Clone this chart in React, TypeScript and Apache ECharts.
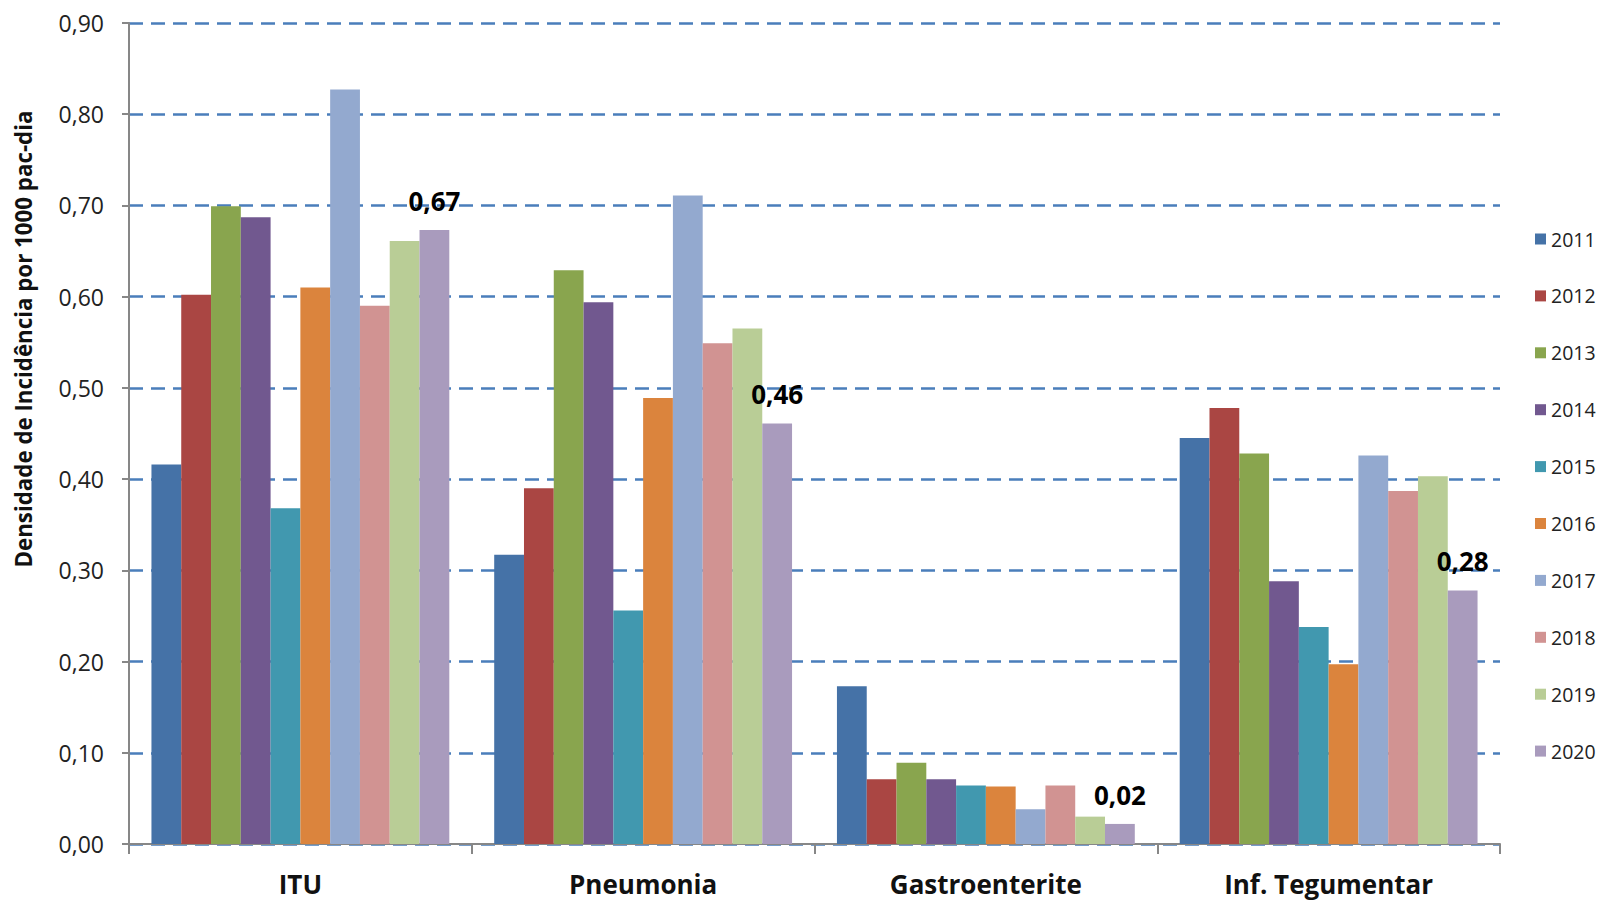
import React, { useEffect, useRef } from "react";
import * as echarts from "echarts";

const categories = ["ITU", "Pneumonia", "Gastroenterite", "Inf. Tegumentar"];
const years = ["2011", "2012", "2013", "2014", "2015", "2016", "2017", "2018", "2019", "2020"];

const v2011 = [0.416, 0.317, 0.173, 0.445];
const v2012 = [0.602, 0.39, 0.071, 0.478];
const v2013 = [0.699, 0.629, 0.089, 0.428];
const v2014 = [0.687, 0.594, 0.071, 0.288];
const v2015 = [0.368, 0.256, 0.064, 0.238];
const v2016 = [0.61, 0.489, 0.063, 0.197];
const v2017 = [0.827, 0.711, 0.038, 0.426];
const v2018 = [0.59, 0.549, 0.064, 0.387];
const v2019 = [0.661, 0.565, 0.03, 0.403];
const v2020 = [0.673, 0.461, 0.022, 0.278];

const seriesValues = [v2011, v2012, v2013, v2014, v2015, v2016, v2017, v2018, v2019, v2020];
const colors = [
  "#4572A7", "#AA4643", "#89A54E", "#71588F", "#4198AF",
  "#DB843D", "#93A9CF", "#D19392", "#B9CD96", "#A99BBD",
];

const yTitle = "Densidade de Incidência por 1000 pac-dia";
const FONT = "'Open Sans', 'Liberation Sans', sans-serif";
const fmt = (v: number) => v.toFixed(2).replace(".", ",");

export default function App() {
  const ref = useRef<HTMLDivElement>(null);
  useEffect(() => {
    if (!ref.current) return;
    const chart = echarts.init(ref.current, undefined, { renderer: "svg" });
    const series = years.map((y, i) => ({
      name: y,
      type: "bar" as const,
      data: seriesValues[i],
      itemStyle: { color: colors[i] },
      barGap: "0%",
      barCategoryGap: "13.1%",
      label:
        i === years.length - 1
          ? {
              show: true,
              position: "top" as const,
              distance: 16,
              fontFamily: FONT,
              fontSize: 26,
              fontWeight: "bold" as const,
              color: "#000",
              formatter: (p: any) => fmt(p.value),
            }
          : { show: false },
    }));
    chart.setOption({
      animation: false,
      backgroundColor: "#fff",
      textStyle: { fontFamily: FONT },
      grid: { left: 129, right: 99, top: 23, bottom: 57, containLabel: false },
      legend: {
        data: years,
        orient: "vertical",
        left: 1530,
        top: 224,
        itemWidth: 11,
        itemHeight: 11,
        itemGap: 36.9,
        icon: "rect",
        textStyle: { fontFamily: FONT, fontSize: 19.5, color: "#222", lineHeight: 19 },
      },
      xAxis: {
        type: "category",
        data: categories,
        axisLine: { show: true, lineStyle: { color: "#878787", width: 2 } },
        axisTick: { show: true, length: 10, lineStyle: { color: "#878787", width: 2 } },
        axisLabel: {
          fontFamily: FONT,
          fontSize: 26,
          fontWeight: "bold",
          color: "#111",
          margin: 27,
          lineHeight: 26,
        },
      },
      yAxis: {
        type: "value",
        min: 0,
        max: 0.9,
        interval: 0.1,
        axisLine: { show: true, lineStyle: { color: "#878787", width: 2 } },
        axisTick: { show: true, length: 7, lineStyle: { color: "#878787", width: 2 } },
        axisLabel: {
          fontFamily: FONT,
          fontSize: 23,
          color: "#222",
          margin: 25,
          formatter: (v: number) => fmt(v),
        },
        splitLine: {
          show: true,
          lineStyle: { color: "#4A7EBB", width: 2.5, type: [14, 8] },
        },
      },
      graphic: [
        {
          type: "text",
          x: 23,
          y: 339,
          rotation: Math.PI / 2,
          style: {
            text: yTitle,
            fontFamily: FONT,
            fontSize: 22.3,
            fontWeight: "bold",
            fill: "#111",
            textAlign: "center",
            textVerticalAlign: "middle",
          },
        },
      ],
      series,
    });
    return () => chart.dispose();
  }, []);
  return (
    <div
      ref={ref}
      style={{ position: "fixed", left: 0, top: 0, width: 1599, height: 901, background: "#fff" }}
    />
  );
}
